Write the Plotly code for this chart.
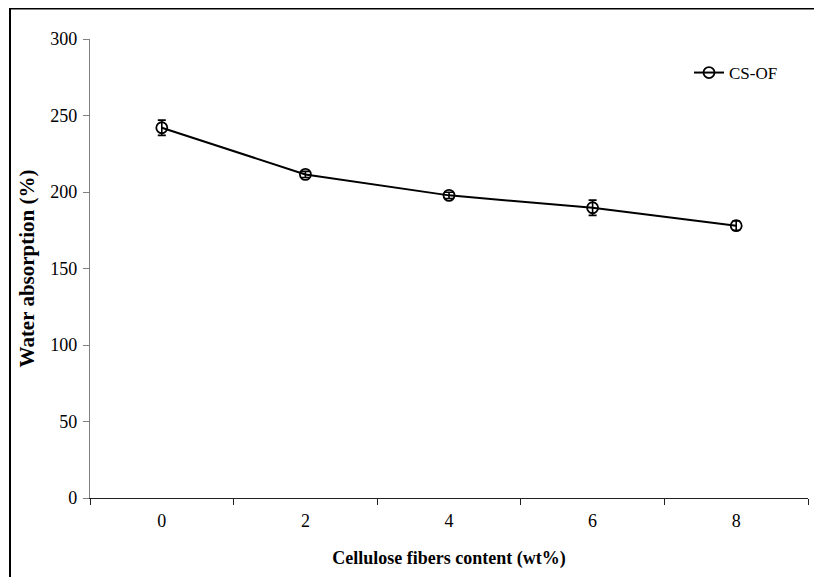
import plotly.graph_objects as go

categories = ["0", "2", "4", "6", "8"]
water_absorption = [242, 211.5, 197.8, 189.7, 178]
errors = [5, 2, 2, 5, 3]
y_ticks = [0, 50, 100, 150, 200, 250, 300]

# page is shown with an 8px body offset; margins compensate for it
W, H = 822, 577
L, R, T, B = 82, 22, 31, 87
pw = W - L - R
ph = H - T - B

fig = go.Figure()
fig.add_trace(go.Scatter(
    x=categories, y=water_absorption, name="CS-OF",
    mode="lines+markers",
    line=dict(color="black", width=2),
    marker=dict(symbol="circle-open", size=11, color="black", line=dict(width=1.8)),
    error_y=dict(type="data", array=errors, visible=True, color="black", thickness=1.6, width=4),
))

font_family = "Liberation Serif, Times New Roman, serif"
fig.update_layout(
    width=W, height=H,
    margin=dict(l=L, r=R, t=T, b=B),
    paper_bgcolor="white", plot_bgcolor="white",
    font=dict(family=font_family, size=18, color="black"),
    showlegend=True,
    legend=dict(x=(681 - L) / pw, y=(490 - 47) / ph,
                xanchor="left", yanchor="top",
                bgcolor="rgba(0,0,0,0)", font=dict(family=font_family, size=17)),
    xaxis=dict(
        type="category", range=[-0.5, 4.5], tickson="boundaries",
        ticks="outside", ticklen=6, tickcolor="#202020", tickwidth=1,
        showline=True, linecolor="#202020", linewidth=1.3, showgrid=False, zeroline=False,
        tickfont=dict(family=font_family, size=18), ticklabelstandoff=6,
        title=dict(text="<b>Cellulose fibers content (wt%)</b>", font=dict(family=font_family, size=18), standoff=21),
    ),
    yaxis=dict(
        range=[0, 300], tickvals=y_ticks,
        ticks="outside", ticklen=6, tickcolor="#808080", tickwidth=1,
        showline=True, linecolor="#808080", linewidth=1.3, showgrid=False, zeroline=False,
        tickfont=dict(family=font_family, size=18), ticklabelstandoff=2,
        title=dict(text="<b>Water absorption (%)</b>", font=dict(family=font_family, size=21), standoff=9),
    ),
)

# outer frame of the original figure
fig.add_shape(type="rect", xref="paper", yref="paper",
              x0=(2 - L) / pw, x1=(W + 20 - L) / pw,
              y0=(490 - (H + 20)) / ph, y1=(490 - 0.5) / ph,
              line=dict(color="black", width=2), fillcolor="rgba(0,0,0,0)", layer="above")

fig.write_html("out.html")
